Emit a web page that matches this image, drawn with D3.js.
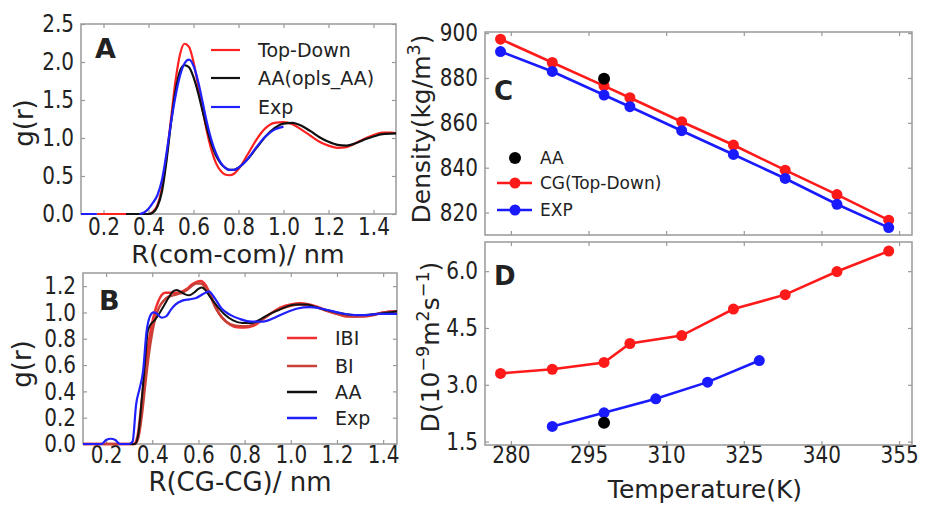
<!DOCTYPE html>
<html><head><meta charset="utf-8">
<script src="https://cdn.jsdelivr.net/npm/d3@7"></script>
<style>body{margin:0;background:#fff} svg{display:block} text{font-family:"DejaVu Sans",sans-serif;fill:#222}</style>
</head><body><svg id="c" width="940" height="506"></svg>
<script>
// ---------- Panel A data ----------
const rA_td = [0.17,0.25,0.30,0.35,0.40,0.42,0.44,0.46,0.48,0.50,0.52,0.54,0.56,0.58,0.60,0.62,0.64,0.66,0.68,0.70,0.72,0.74,0.76,0.78,0.80,0.84,0.88,0.92,0.96,1.00,1.04,1.08,1.12,1.16,1.20,1.24,1.28,1.32,1.36,1.40,1.44,1.48,1.50];
const gA_td = [0,0,0,0,0,0.03,0.12,0.35,0.75,1.25,1.75,2.10,2.24,2.20,2.00,1.70,1.38,1.08,0.84,0.67,0.57,0.52,0.51,0.53,0.59,0.78,0.98,1.13,1.20,1.21,1.18,1.11,1.03,0.95,0.90,0.87,0.88,0.93,0.99,1.04,1.07,1.07,1.06];
const rA_aa = [0.30,0.35,0.40,0.42,0.44,0.46,0.48,0.50,0.52,0.54,0.56,0.58,0.60,0.62,0.64,0.66,0.68,0.70,0.72,0.74,0.76,0.78,0.80,0.84,0.88,0.92,0.96,1.00,1.04,1.08,1.12,1.16,1.20,1.24,1.28,1.32,1.36,1.40,1.44,1.50];
const gA_aa = [0,0,0,0.02,0.10,0.30,0.70,1.20,1.62,1.88,1.96,1.93,1.80,1.60,1.36,1.12,0.92,0.77,0.67,0.61,0.58,0.58,0.61,0.72,0.87,1.02,1.13,1.19,1.20,1.16,1.09,1.01,0.95,0.91,0.90,0.93,0.98,1.02,1.05,1.06];
const rA_exp = [0.10,0.17,null,0.36,0.38,0.40,0.42,0.44,0.46,0.48,0.50,0.52,0.54,0.56,0.58,0.60,0.62,0.64,0.66,0.68,0.70,0.72,0.74,0.76,0.78,0.80,0.84,0.88,0.92,0.96,1.00];
const gA_exp = [0,0,null,0,0.02,0.07,0.15,0.25,0.45,0.80,1.20,1.55,1.82,1.98,2.03,1.95,1.75,1.48,1.20,0.97,0.80,0.68,0.61,0.58,0.58,0.61,0.72,0.88,1.02,1.11,1.15];
const ticksA_x = [0.2,0.4,0.6,0.8,1.0,1.2,1.4];
const ticksA_y = [0.0,0.5,1.0,1.5,2.0,2.5];
const legendA = ["Top-Down","AA(opls_AA)","Exp"];

// ---------- Panel B data ----------
const rB_ibi = [0.10,0.30,0.32,0.335,0.35,0.365,0.38,0.395,0.41,0.425,0.44,0.455,0.47,0.49,0.51,0.53,0.55,0.57,0.59,0.61,0.63,0.65,0.67,0.69,0.72,0.76,0.80,0.84,0.88,0.92,0.96,1.00,1.04,1.08,1.12,1.16,1.20,1.24,1.28,1.32,1.36,1.40,1.46];
const gB_ibi = [0,0,0,0.05,0.25,0.50,0.72,0.88,1.00,1.08,1.13,1.15,1.15,1.15,1.15,1.16,1.18,1.21,1.23,1.24,1.21,1.14,1.06,0.99,0.93,0.89,0.885,0.90,0.95,1.00,1.04,1.06,1.07,1.06,1.04,1.01,0.99,0.97,0.97,0.97,0.98,1.00,1.01];
const rB_bi = [0.10,0.30,0.325,0.34,0.355,0.37,0.385,0.40,0.415,0.43,0.45,0.47,0.49,0.51,0.53,0.55,0.57,0.59,0.61,0.63,0.65,0.67,0.69,0.72,0.76,0.80,0.84,0.88,0.92,0.96,1.00,1.04,1.08,1.12,1.16,1.20,1.24,1.28,1.32,1.36,1.40,1.46];
const gB_bi = [0,0,0,0.05,0.22,0.46,0.68,0.85,0.97,1.04,1.09,1.12,1.13,1.14,1.15,1.17,1.20,1.22,1.22,1.19,1.13,1.05,0.99,0.93,0.90,0.895,0.91,0.95,1.00,1.03,1.05,1.06,1.055,1.035,1.01,0.99,0.975,0.97,0.975,0.985,1.00,1.01];
const rB_aa = [0.30,0.325,0.34,0.355,0.37,0.38,0.39,0.41,0.43,0.45,0.47,0.49,0.505,0.52,0.54,0.56,0.58,0.60,0.615,0.63,0.65,0.68,0.71,0.75,0.79,0.83,0.87,0.91,0.95,0.99,1.03,1.07,1.11,1.15,1.20,1.25,1.30,1.35,1.40,1.46];
const gB_aa = [0,0,0.08,0.35,0.65,0.85,0.90,0.94,0.99,1.05,1.11,1.16,1.17,1.16,1.14,1.13,1.15,1.18,1.19,1.17,1.12,1.05,0.99,0.94,0.92,0.92,0.95,0.99,1.02,1.05,1.06,1.06,1.04,1.02,1.00,0.985,0.98,0.985,0.995,1.01];
const rB_exp = [0.10,0.18,0.20,0.22,0.24,0.26,0.30,0.315,0.33,0.345,0.36,0.375,0.39,0.405,0.42,0.44,0.46,0.48,0.50,0.53,0.56,0.59,0.62,0.645,0.67,0.70,0.74,0.78,0.83,0.88,0.93,0.98,1.03,1.08,1.13,1.18,1.23,1.28,1.33,1.38,1.46];
const gB_exp = [0,0,0.03,0.04,0.03,0,0,0.02,0.30,0.42,0.55,0.85,0.97,1.00,0.99,0.96,0.97,1.02,1.06,1.09,1.10,1.11,1.14,1.16,1.11,1.03,0.98,0.95,0.93,0.93,0.96,1.00,1.03,1.04,1.03,1.01,0.99,0.98,0.98,0.99,0.99];
const ticksB_x = [0.2,0.4,0.6,0.8,1.0,1.2,1.4];
const ticksB_y = [0.0,0.2,0.4,0.6,0.8,1.0,1.2];
const legendB = ["IBI","BI","AA","Exp"];

// ---------- Panel C data ----------
const T_cg = [278,288,298,303,313,323,333,343,353];
const rho_cg = [897.3,886.9,876.5,871.2,860.5,850.1,838.9,828.0,816.6];
const T_exp = [278,288,298,303,313,323,333,343,353];
const rho_exp = [891.8,882.9,872.4,867.2,856.5,845.9,835.2,823.7,813.3];
const T_aa = [298];
const rho_aa = [879.7];
const ticksC_y = [820,840,860,880,900];
const legendC = ["AA","CG(Top-Down)","EXP"];

// ---------- Panel D data ----------
const D_cg = [3.30,3.41,3.59,4.09,4.30,5.00,5.38,5.99,6.53];
const TD_exp = [288,298,308,318,328];
const D_exp = [1.90,2.26,2.63,3.07,3.64];
const TD_aa = [298];
const D_aa = [2.00];
const ticksT = [280,295,310,325,340,355];
const ticksD_y = [1.5,3.0,4.5,6.0];

const svg = d3.select("#c");
const FRAME = "#999";
const SY = 1.2; // vertical stretch of tick label glyphs

function panel(x, y, xt, yt, fx, fy, showX, base) {
  const g = svg.append("g");
  const [x0,x1] = x.range(), [y0,y1] = y.range();
  const mk = (axis, tr) => {
    const a = g.append("g").attr("transform", tr).call(axis);
    a.select(".domain").remove();
    a.selectAll("line").attr("stroke", FRAME).attr("stroke-width", 1.2);
    a.selectAll("text").style("font-size","20px").style("font-family","DejaVu Sans").attr("fill","#222");
    return a;
  };
  const l = mk(d3.axisLeft(y).tickValues(yt).tickSize(-4).tickPadding(7).tickFormat(fy), `translate(${x0},0)`);
  l.selectAll("text").attr("transform", `scale(1,${SY})`);
  mk(d3.axisRight(y).tickValues(yt).tickSize(-4).tickFormat(""), `translate(${x1},0)`);
  const b = mk(d3.axisBottom(x).tickValues(xt).tickSize(-4).tickFormat(showX ? fx : ""), `translate(0,${y0})`);
  b.selectAll("text").attr("y", base / SY).attr("dy", 0).attr("transform", `scale(1,${SY})`);
  mk(d3.axisTop(x).tickValues(xt).tickSize(-4).tickFormat(""), `translate(0,${y1})`);
  g.append("rect").attr("x", x0).attr("y", y1).attr("width", x1-x0).attr("height", y0-y1)
    .attr("fill","none").attr("stroke", FRAME).attr("stroke-width", 1.5);
  return g;
}

function curve(x, y, rs, gs, color, w) {
  const pts = rs.map((r,i)=>[r, gs[i]]);
  svg.append("path").datum(pts)
    .attr("d", d3.line().defined(d=>d[0]!==null).x(d=>x(d[0])).y(d=>y(d[1])).curve(d3.curveMonotoneX))
    .attr("fill","none").attr("stroke", color).attr("stroke-width", w).attr("stroke-linejoin","round");
}

function label(txt, x, y, size, bold) {
  svg.append("text").attr("x", x).attr("y", y).text(txt)
    .style("font-size", size+"px").style("font-weight", bold ? "bold" : "normal").attr("fill","#111");
}

function ylab(parts, cx, cy, size) {
  const t = svg.append("text").attr("transform", `translate(${cx},${cy}) rotate(-90)`)
    .attr("text-anchor","middle").style("font-size", size+"px");
  const shift = 0.42 * size;
  let up = false;
  parts.forEach(p => {
    if (p.sup) {
      t.append("tspan").attr("dy", up ? 0 : -shift).style("font-size", (size*0.7)+"px").text(p.sup);
      up = true;
    } else {
      t.append("tspan").attr("dy", up ? shift : 0).text(p.t);
      up = false;
    }
  });
  return t;
}
function xlab(txt, cx, cy, size) {
  svg.append("text").attr("x", cx).attr("y", cy).attr("text-anchor","middle").style("font-size", size+"px").text(txt);
}

const f1 = d3.format(".1f");
const f0 = d3.format("d");

// ----- Panel A -----
const xA = d3.scaleLinear().domain([0.1,1.5]).range([81,396]);
const yA = d3.scaleLinear().domain([0,2.5]).range([214,24]);
panel(xA, yA, ticksA_x, ticksA_y, f1, f1, true, 21);
curve(xA, yA, rA_td, gA_td, "#ff2020", 2.2);
curve(xA, yA, rA_aa, gA_aa, "#111111", 2.2);
curve(xA, yA, rA_exp, gA_exp, "#2020ff", 2.2);
const colA = ["#ff2020","#111111","#2020ff"], rowA = [50,78,107];
legendA.forEach((t,i)=>{
  svg.append("line").attr("x1",211).attr("x2",240).attr("y1",rowA[i]).attr("y2",rowA[i]).attr("stroke",colA[i]).attr("stroke-width",2.2);
  svg.append("text").attr("x",258).attr("y",rowA[i]).attr("dy","0.36em").style("font-size","19px").text(t);
});
label("A", 95, 58, 27, true);
xlab("R(com-com)/ nm", 238, 263, 25.5);
ylab([{t:"g(r)"}], 33, 123, 26);

// ----- Panel B -----
const xB = d3.scaleLinear().domain([0.1,1.46]).range([83,397]);
const yB = d3.scaleLinear().domain([0,1.3]).range([444,273]);
panel(xB, yB, ticksB_x, ticksB_y, f1, f1, true, 19);
const colB = ["#f03030","#c84038","#111111","#2020ff"];
curve(xB, yB, rB_ibi, gB_ibi, colB[0], 2.5);
curve(xB, yB, rB_bi, gB_bi, colB[1], 2.5);
curve(xB, yB, rB_aa, gB_aa, colB[2], 2.0);
curve(xB, yB, rB_exp, gB_exp, colB[3], 2.2);
const rowB = [338,366,392,418];
legendB.forEach((t,i)=>{
  svg.append("line").attr("x1",287).attr("x2",317).attr("y1",rowB[i]).attr("y2",rowB[i]).attr("stroke",colB[i]).attr("stroke-width",2.5);
  svg.append("text").attr("x",335).attr("y",rowB[i]).attr("dy","0.36em").style("font-size","19px").text(t);
});
label("B", 99, 310, 27, true);
xlab("R(CG-CG)/ nm", 240, 491, 26);
ylab([{t:"g(r)"}], 31, 364, 26);

// ----- Panel C -----
const xT = d3.scaleLinear().domain([275,357.5]).range([485,912]);
const yC = d3.scaleLinear().domain([810,900.5]).range([235,32]);
panel(xT, yC, ticksT, ticksC_y, f0, f0, false, 18);
function series(x, y, xs, ys, color, line, r) {
  if (line) svg.append("path").datum(xs.map((v,i)=>[v,ys[i]]))
    .attr("d", d3.line().x(d=>x(d[0])).y(d=>y(d[1])))
    .attr("fill","none").attr("stroke",color).attr("stroke-width",2.6);
  svg.append("g").selectAll("circle").data(xs.map((v,i)=>[v,ys[i]])).join("circle")
    .attr("cx",d=>x(d[0])).attr("cy",d=>y(d[1])).attr("r",r).attr("fill",color);
}
series(xT, yC, T_cg, rho_cg, "#ff1a1a", true, 5.5);
series(xT, yC, T_exp, rho_exp, "#1a1aff", true, 5.5);
series(xT, yC, T_aa, rho_aa, "#000000", false, 6);
const colC = ["#000000","#ff1a1a","#1a1aff"], rowC = [158,183,210];
legendC.forEach((t,i)=>{
  if (i>0) svg.append("line").attr("x1",497).attr("x2",532).attr("y1",rowC[i]).attr("y2",rowC[i]).attr("stroke",colC[i]).attr("stroke-width",2.6);
  svg.append("circle").attr("cx",515).attr("cy",rowC[i]).attr("r",i===0?6:5.5).attr("fill",colC[i]);
  svg.append("text").attr("x",540).attr("y",rowC[i]).attr("dy","0.36em").style("font-size","17px").text(t);
});
label("C", 494, 100, 26, true);
ylab([{t:"Density(kg/m"},{sup:"3"},{t:")"}], 430, 129, 25);

// ----- Panel D -----
const yD = d3.scaleLinear().domain([1.41,6.77]).range([445,242]);
panel(xT, yD, ticksT, ticksD_y, f0, f1, true, 18);
series(xT, yD, T_cg, D_cg, "#ff1a1a", true, 5.5);
series(xT, yD, TD_exp, D_exp, "#1a1aff", true, 5.5);
series(xT, yD, TD_aa, D_aa, "#000000", false, 6);
label("D", 494, 285, 26, true);
ylab([{t:"D(10"},{sup:"\u22129"},{t:"m"},{sup:"2"},{t:"s"},{sup:"\u22121"},{t:")"}], 439, 347, 25);
xlab("Temperature(K)", 705, 498, 25);
</script></body></html>
